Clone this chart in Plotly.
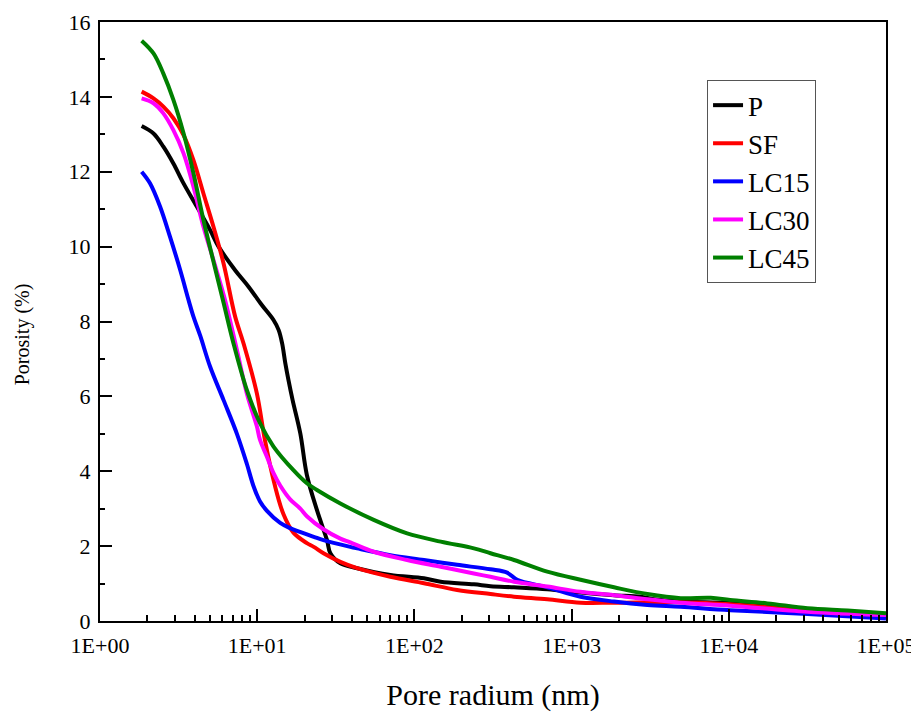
import plotly.graph_objects as go

# ---- data (pore radius in nm, porosity in %) ----
p_r = [1.84, 2.19, 2.53, 2.93, 3.40, 4.13, 5.02, 5.68, 7.24, 8.81, 10.7, 12.7, 13.7, 14.4, 15.1,
       15.8, 16.8, 18.8, 20.7, 24.0, 27.8, 29.2, 33.8, 43.2, 70.3, 115, 147, 239, 305, 430, 700,
       1140, 1862, 2748, 3342, 4943, 10200, 17600, 31700, 57000, 100000]
p_y = [13.22, 13.02, 12.67, 12.22, 11.69, 11.07, 10.44, 10.0, 9.37, 8.93, 8.44, 8.04, 7.77, 7.42, 6.88,
       6.44, 5.90, 5.01, 3.90, 2.96, 2.16, 1.81, 1.54, 1.41, 1.23, 1.14, 1.05, 0.98, 0.93, 0.90, 0.85,
       0.76, 0.69, 0.65, 0.58, 0.52, 0.48, 0.40, 0.30, 0.22, 0.15]

sf_r = [1.84, 2.19, 2.53, 2.93, 3.40, 3.93, 4.55, 5.27, 6.11, 7.24, 8.18, 9.95, 11.2, 12.9, 14.7,
        17.0, 20.7, 22.9, 26.4, 33.8, 43.2, 70.3, 115, 187, 305, 430, 700, 1140, 1862, 4943,
        10200, 17600, 31700, 57000, 100000]
sf_y = [14.14, 13.96, 13.74, 13.43, 12.98, 12.31, 11.42, 10.53, 9.55, 8.13, 7.42, 6.08, 4.83, 3.65, 2.85,
        2.36, 2.08, 1.98, 1.81, 1.58, 1.41, 1.18, 1.01, 0.83, 0.72, 0.65, 0.58, 0.49, 0.49, 0.50,
        0.45, 0.37, 0.27, 0.22, 0.18]

lc15_r = [1.84, 2.08, 2.41, 2.79, 3.24, 3.66, 3.93, 4.34, 5.02, 6.11, 7.43, 8.59, 9.48, 10.4,
          11.5, 14.0, 16.2, 22.9, 26.4, 39.1, 43.2, 70.3, 115, 187, 305, 389, 451, 700, 1140,
          1862, 3034, 4943, 10200, 31700, 100000]
lc15_y = [12.0, 11.69, 11.07, 10.26, 9.37, 8.57, 8.13, 7.62, 6.79, 5.90, 5.00, 4.20, 3.60, 3.20,
          2.95, 2.62, 2.48, 2.25, 2.16, 1.98, 1.94, 1.76, 1.63, 1.50, 1.38, 1.29, 1.10, 0.90, 0.65,
          0.52, 0.43, 0.38, 0.29, 0.19, 0.07]

lc30_r = [1.84, 2.19, 2.53, 2.93, 3.40, 3.93, 4.55, 5.27, 6.25, 7.43, 8.59, 9.95, 10.4, 11.5, 12.7,
          14.0, 16.2, 18.8, 20.7, 26.4, 33.8, 39.1, 55.1, 89.9, 147, 239, 305, 430, 700, 1140,
          1862, 3034, 4943, 10200, 31700, 100000]
lc30_y = [13.96, 13.83, 13.56, 13.11, 12.49, 11.60, 10.53, 9.64, 8.57, 7.24, 6.08, 5.20, 4.85, 4.40, 3.95,
          3.62, 3.25, 3.00, 2.80, 2.45, 2.20, 2.10, 1.85, 1.63, 1.45, 1.27, 1.18, 1.05, 0.92, 0.78,
          0.69, 0.58, 0.49, 0.41, 0.25, 0.16]

lc45_r = [1.84, 2.19, 2.53, 2.93, 3.40, 3.93, 4.55, 5.27, 6.11, 7.06, 8.59, 10.4, 12.7, 17.0, 20.7,
          24.0, 33.8, 55.1, 89.9, 147, 239, 305, 430, 700, 1140, 1862, 3034, 4943, 7674, 10200,
          17600, 31700, 57000, 100000]
lc45_y = [15.50, 15.16, 14.62, 13.92, 13.03, 11.96, 10.71, 9.60, 8.50, 7.42, 6.17, 5.29, 4.66, 4.03, 3.68,
          3.50, 3.14, 2.70, 2.34, 2.12, 1.94, 1.81, 1.63, 1.32, 1.10, 0.90, 0.72, 0.61, 0.62, 0.56,
          0.47, 0.34, 0.28, 0.21]

series_names = ["P", "SF", "LC15", "LC30", "LC45"]
series_colors = ["#000000", "#ff0000", "#0000ff", "#ff00ff", "#008000"]

x_tickvals = [1, 10, 100, 1000, 10000, 100000]
x_ticktext = ["1E+00", "1E+01", "1E+02", "1E+03", "1E+04", "1E+05"]
x_minor = [m * d for d in [1, 10, 100, 1000, 10000] for m in range(2, 10)]

x_title = "Pore radium (nm)"
y_title = "Porosity (%)"

font_family = "Liberation Serif, Times New Roman, serif"

fig = go.Figure()
for name, color, xs, ys in zip(series_names, series_colors,
                               [p_r, sf_r, lc15_r, lc30_r, lc45_r],
                               [p_y, sf_y, lc15_y, lc30_y, lc45_y]):
    fig.add_trace(go.Scatter(x=xs, y=ys, mode="lines", name=name,
                             line=dict(color=color, width=4, shape="spline", smoothing=1.0)))

fig.add_annotation(text=y_title, xref="paper", yref="paper", x=-0.099, y=0.479,
                   xanchor="center", yanchor="middle", textangle=-90, showarrow=False,
                   font=dict(size=20, family=font_family, color="black"))

fig.update_layout(
    width=911, height=704,
    margin=dict(l=92, r=33, t=14, b=91),
    paper_bgcolor="white", plot_bgcolor="white",
    font=dict(family=font_family, size=22, color="black"),
    showlegend=True,
    legend=dict(x=0.911, y=0.903, xanchor="right", yanchor="top",
                bgcolor="white", bordercolor="#555555", borderwidth=1,
                font=dict(size=27, family=font_family), tracegroupgap=0),
    xaxis=dict(type="log", range=[0, 5], tickvals=x_tickvals, ticktext=x_ticktext,
               automargin=False, ticklabelstandoff=4,
               ticks="inside", ticklen=12, tickwidth=2, tickcolor="black",
               showline=True, linecolor="black", linewidth=2, mirror=True,
               showgrid=False, zeroline=False,
               minor=dict(tickvals=x_minor, ticks="inside", ticklen=6, tickwidth=2, tickcolor="black", showgrid=False),
               tickfont=dict(size=22),
               title=dict(text=x_title, font=dict(size=30), standoff=34)),
    yaxis=dict(range=[0, 16], dtick=2, tick0=0,
               automargin=False, ticklabelstandoff=3,
               ticks="inside", ticklen=12, tickwidth=2, tickcolor="black",
               showline=True, linecolor="black", linewidth=2, mirror=True,
               showgrid=False, zeroline=False,
               minor=dict(dtick=1, ticks="inside", ticklen=5, tickwidth=2, tickcolor="black", showgrid=False),
               tickfont=dict(size=22)),
)

fig.write_html("out.html")
